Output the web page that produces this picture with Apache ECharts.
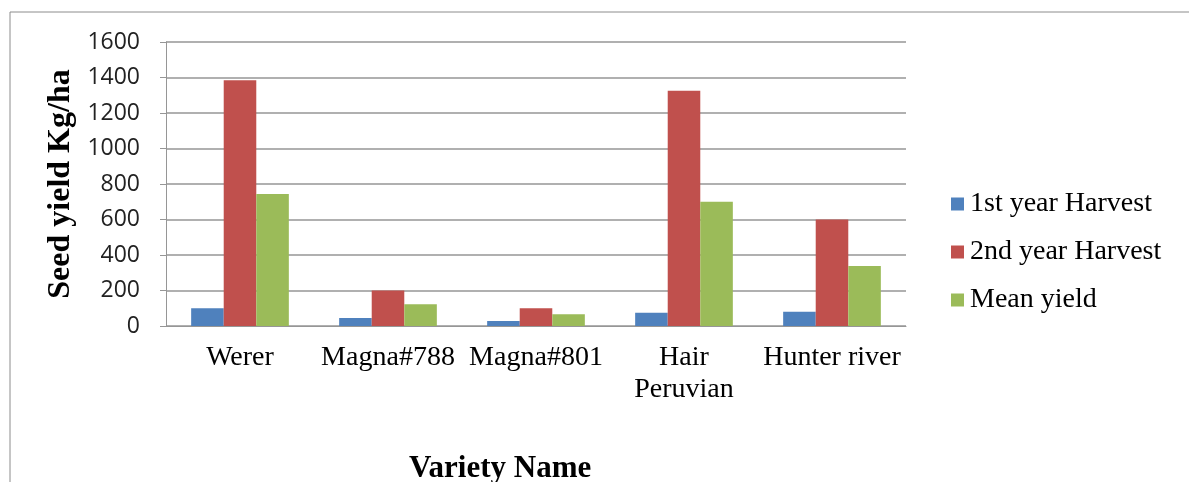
<!DOCTYPE html>
<html>
<head>
<meta charset="utf-8">
<script src="https://cdn.jsdelivr.net/npm/echarts@6.0.0/dist/echarts.min.js"></script>
<style>
  html, body { margin: 0; padding: 0; background: #fff; }
  #chart { width: 1189px; height: 482px; }
</style>
</head>
<body>
<div id="chart"></div>
<script>
// values
const varieties = ['Werer', 'Magna#788', 'Magna#801', 'Hair\nPeruvian', 'Hunter river'];
const firstYear = [100, 45, 28, 75, 80];
const secondYear = [1385, 200, 100, 1325, 600];
const meanYield = [743, 122, 66, 700, 338];
const seriesNames = ['1st year Harvest', '2nd year Harvest', 'Mean yield'];
const colors = ['#4F81BD', '#C0504D', '#9BBB59'];

const serif = "'Liberation Serif', 'Times New Roman', serif";
const gridGray = '#969696';

const chart = echarts.init(document.getElementById('chart'));

chart.setOption({
  animation: false,
  color: colors,
  graphic: [
    {
      type: 'rect',
      shape: { x: 10, y: 12, width: 1400, height: 600 },
      style: { fill: 'none', stroke: '#8c8c8c', lineWidth: 1 },
      silent: true,
    },
  ],
  title: {
    text: 'Variety Name',
    left: 404,
    top: 448,
    textStyle: {
      fontFamily: serif,
      fontWeight: 'bold',
      fontSize: 31,
      color: '#000',
    },
  },
  legend: {
    orient: 'vertical',
    left: 946,
    top: 185,
    itemWidth: 13,
    itemHeight: 13,
    itemGap: 20,
    icon: 'rect',
    textStyle: {
      fontFamily: serif,
      fontSize: 28,
      lineHeight: 28,
      color: '#000',
      padding: [0, 0, 0, 1],
    },
    data: seriesNames,
  },
  grid: {
    left: 166,
    right: 283,
    top: 42,
    bottom: 156,
  },
  xAxis: {
    type: 'category',
    data: varieties,
    axisLine: { lineStyle: { color: gridGray } },
    axisTick: { length: 6, lineStyle: { color: gridGray } },
    axisLabel: {
      interval: 0,
      margin: 16,
      fontFamily: serif,
      fontSize: 28,
      lineHeight: 32,
      color: '#000',
    },
  },
  yAxis: {
    type: 'value',
    min: 0,
    max: 1600,
    interval: 200,
    name: 'Seed yield Kg/ha',
    nameLocation: 'middle',
    nameGap: 77,
    nameTextStyle: {
      fontFamily: serif,
      fontWeight: 'bold',
      fontSize: 32,
      color: '#000',
    },
    axisLine: { show: true, lineStyle: { color: gridGray } },
    axisTick: { show: true, length: 6, lineStyle: { color: gridGray } },
    axisLabel: {
      margin: 26,
      formatter: (value) => String(value),
      fontFamily: "'Open Sans', sans-serif",
      fontSize: 23,
      color: '#222',
    },
    splitLine: { lineStyle: { color: gridGray, width: 1.5 } },
  },
  series: [
    {
      name: seriesNames[0],
      type: 'bar',
      data: firstYear,
      barGap: '0%',
      barCategoryGap: '34%',
    },
    {
      name: seriesNames[1],
      type: 'bar',
      data: secondYear,
      barGap: '0%',
      barCategoryGap: '34%',
    },
    {
      name: seriesNames[2],
      type: 'bar',
      data: meanYield,
      barGap: '0%',
      barCategoryGap: '34%',
    },
  ],
});
</script>
</body>
</html>
